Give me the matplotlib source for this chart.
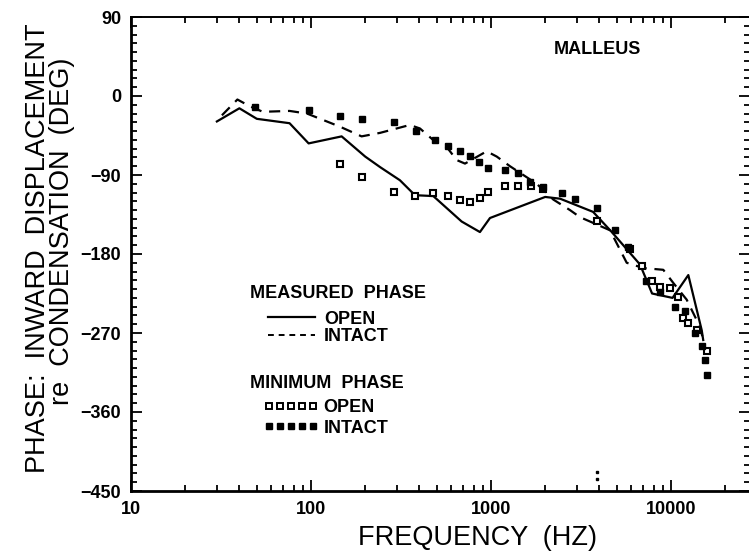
import numpy as np
import matplotlib
matplotlib.use('Agg')
from matplotlib import pyplot as plt
from matplotlib.lines import Line2D
from matplotlib.ticker import FixedLocator, LogLocator, NullFormatter

# measured phase, open cavity (solid)
open_f = [30, 40, 50, 76, 97, 148, 200, 242, 312, 378, 478, 687, 868, 987, 2000, 2420,
          3690, 4690, 6730, 7850, 10200, 12480, 14820, 15100]
open_ph = [-29, -14, -26, -31, -54, -46, -69, -81, -96, -113, -114, -143, -155, -139, -115, -117,
           -132, -155, -192, -225, -230, -204, -267, -278]

# measured phase, intact cavity (dashed)
intact_f = [32, 39, 46, 54, 76, 95, 145, 191, 242, 354, 403, 489, 567, 645, 717, 946, 1076,
            1275, 1512, 1794, 2220, 2748, 3120, 4585, 5675, 7020, 9060, 10300, 12220, 14490, 15100]
intact_ph = [-22, -4, -12, -18, -17, -20, -35, -46, -42, -33, -37, -52, -58, -73, -77, -63, -69,
             -80, -90, -100, -118, -130, -138, -153, -190, -196, -198, -213, -232, -263, -278]

# minimum phase, open (open squares)
minopen_f = [145, 193, 290, 380, 479, 580, 673, 767, 868, 967, 1196, 1419, 1668, 1950,
             3900, 5915, 6870, 7890, 8690, 9870, 10970, 11690, 12470, 13900, 15780]
minopen_ph = [-78, -92, -109, -114, -110, -114, -118, -121, -116, -109, -102, -102, -103, -106,
              -142, -174, -194, -211, -218, -219, -229, -253, -259, -267, -291]

# minimum phase, intact (filled squares)
minint_f = [49, 97, 145, 192, 288, 383, 489, 577, 673, 767, 858, 957, 1196, 1419, 1648, 1950,
            2470, 2928, 3866, 4890, 5790, 7300, 8690, 10500, 11960, 13600, 14800, 15450, 15780]
minint_ph = [-13, -16, -23, -26, -30, -40, -50, -57, -63, -68, -75, -82, -84, -88, -98, -104,
             -111, -117, -128, -153, -172, -211, -223, -240, -245, -270, -285, -301, -318]

# stray dots near the bottom
stray_f = [3900, 3900]
stray_ph = [-428, -436]

plt.rcParams['font.family'] = ['Liberation Sans', 'DejaVu Sans']
narrow = ['Liberation Sans Narrow', 'Liberation Sans', 'DejaVu Sans']

fig = plt.figure(figsize=(7.49, 5.58), dpi=100)
ax = fig.add_axes([131 / 749, 1 - 491 / 558, 619 / 749, 474 / 558])

ax.plot(open_f, open_ph, color='black', lw=1.6)
ax.plot(intact_f, intact_ph, color='black', lw=1.6, dashes=(5, 3.5))
ax.plot(minopen_f, minopen_ph, ls='none', marker='s', ms=4.5, mfc='white', mec='black', mew=1.5)
ax.plot(minint_f, minint_ph, ls='none', marker='s', ms=5, mfc='black', mec='black')
ax.plot(stray_f, stray_ph, ls='none', marker='s', ms=1.6, color='black')

ax.set_xscale('log')
ax.set_xlim(10, 10 ** (1 + 619 / 180))
ax.set_ylim(-450, 90)
ax.set_yticks(np.arange(-450, 91, 90))
ax.yaxis.set_minor_locator(FixedLocator(np.arange(-450, 91, 10)))
ax.xaxis.set_major_locator(FixedLocator([10, 100, 1000, 10000]))
ax.xaxis.set_minor_locator(LogLocator(base=10, subs=np.arange(2, 10)))
ax.xaxis.set_minor_formatter(NullFormatter())
ax.set_xticklabels(['10', '100', '1000', '10000'])
ax.tick_params(which='both', direction='in', top=True, right=True, labelsize=13, width=1.3)
ax.tick_params(which='major', length=8)
ax.tick_params(which='minor', length=4.5)
ax.tick_params(axis='y', pad=7)
ax.tick_params(axis='x', pad=7)
for lab in ax.get_xticklabels() + ax.get_yticklabels():
    lab.set_fontweight('bold')
for side in ['left', 'bottom']:
    ax.spines[side].set_linewidth(2)
ax.spines['top'].set_linewidth(1.4)
ax.spines['right'].set_visible(False)

fig.text(477 / 749, 1 - 538 / 558, 'FREQUENCY  (HZ)', fontsize=19.5, ha='center', va='center')
fig.text(38 / 749, 1 - 248 / 558, 'PHASE:  INWARD  DISPLACEMENT', rotation=90,
         fontsize=19.5, ha='center', va='center')
fig.text(62 / 749, 1 - 231 / 558, 're  CONDENSATION  (DEG)', rotation=90,
         fontsize=19.5, ha='center', va='center')

ax.text((597 - 131) / 619, (491 - 50) / 474, 'MALLEUS', transform=ax.transAxes, fontsize=13,
        fontweight='bold', ha='center', va='center', family=narrow)

# legend blocks
ax.text((250 - 131) / 619, (491 - 293) / 474, 'MEASURED  PHASE', transform=ax.transAxes,
        fontsize=13, fontweight='bold', ha='left', va='center', family=narrow)
ax.text((250 - 131) / 619, (491 - 384) / 474, 'MINIMUM  PHASE', transform=ax.transAxes,
        fontsize=13, fontweight='bold', ha='left', va='center', family=narrow)

entry_prop = {'size': 13, 'weight': 'bold', 'family': narrow}
h1 = [Line2D([], [], color='black', lw=1.6), Line2D([], [], color='black', lw=1.4, dashes=(3, 2.5))]
leg1 = ax.legend(h1, ['OPEN', 'INTACT'], loc='center left',
                 bbox_to_anchor=((268 - 131) / 619, (491 - 328) / 474), frameon=False,
                 borderpad=0, borderaxespad=0, handlelength=2.6, handletextpad=0.5,
                 labelspacing=0.05, prop=entry_prop)
ax.add_artist(leg1)
h2 = [Line2D([], [], ls='none', marker='s', ms=4, mfc='white', mec='black', mew=1.4),
      Line2D([], [], ls='none', marker='s', ms=4.5, mfc='black', mec='black')]
ax.legend(h2, ['OPEN', 'INTACT'], loc='center left', numpoints=5,
          bbox_to_anchor=((264 - 131) / 619, (491 - 418) / 474), frameon=False,
          borderpad=0, borderaxespad=0, handlelength=3.0, handletextpad=0.3,
          labelspacing=0.2, prop=entry_prop)

fig.savefig('out.png', dpi=100)
